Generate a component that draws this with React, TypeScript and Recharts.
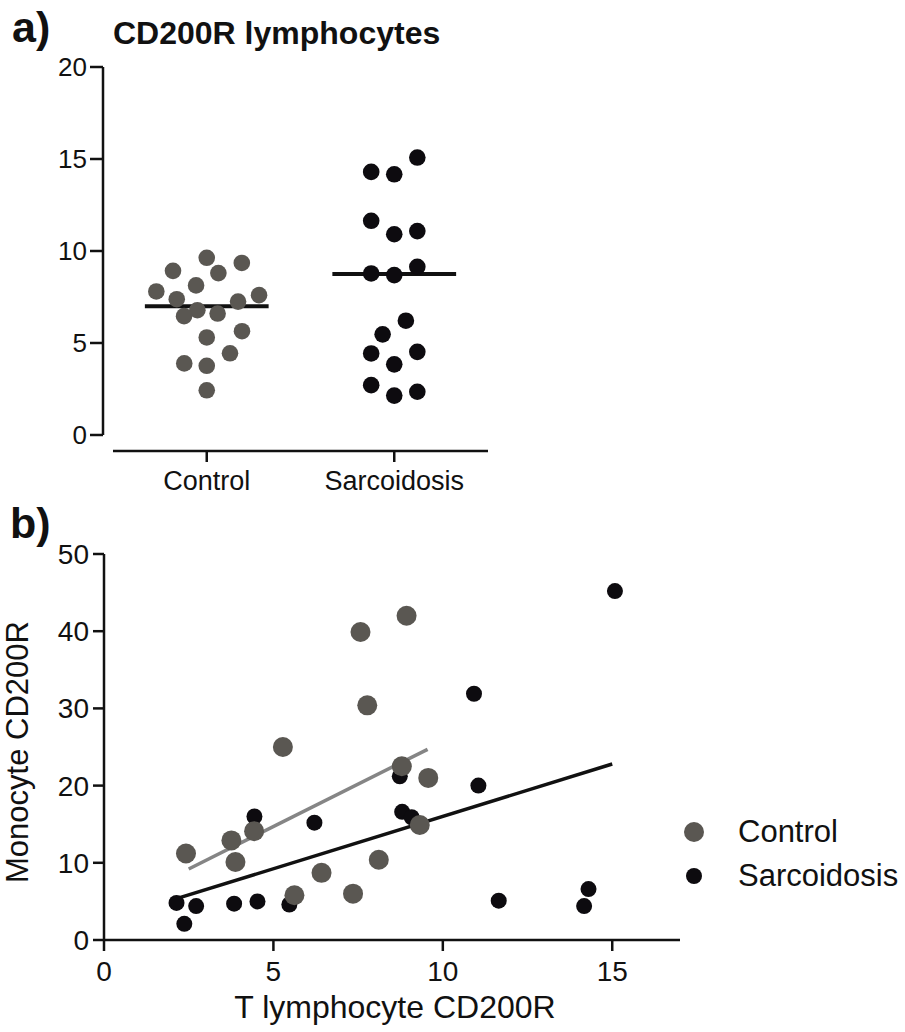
import React from 'react';
import { ScatterChart, Scatter, XAxis, YAxis, ReferenceLine, Legend } from 'recharts';

const FONT = '"Liberation Sans", Arial, Helvetica, sans-serif';
const INK = '#111111';
const CONTROL_DOT = '#5a5752';
const SARC_DOT = '#0d0b0f';
const CONTROL_FIT = '#858585';

// ---------- Panel a: CD200R lymphocytes ----------
const groupLabels = ['Control', 'Sarcoidosis'];
const controlValuesA = [9.63, 9.35, 8.92, 8.8, 8.13, 7.8, 7.6, 7.38, 7.25, 6.78, 6.6, 6.46, 5.64, 5.3, 4.44, 3.89, 3.76, 2.43];
const controlJitterA = [0, 0.187, -0.18, 0.062, -0.057, -0.269, 0.279, -0.16, 0.167, -0.05, 0.058, -0.121, 0.188, 0, 0.124, -0.12, 0, 0];
const sarcValuesA = [15.08, 14.3, 14.17, 11.64, 11.08, 10.91, 9.14, 8.78, 8.69, 6.21, 5.47, 4.43, 4.52, 3.84, 2.71, 2.35, 2.14];
const sarcJitterA = [0.123, -0.123, 0, -0.123, 0.123, 0, 0.123, -0.123, 0, 0.062, -0.062, -0.123, 0.123, 0, -0.123, 0.123, 0];
const groupMeans = [7.0, 8.75];
const yTicksA = [0, 5, 10, 15, 20];

// ---------- Panel b: Monocyte vs T lymphocyte CD200R ----------
const controlXB = [8.93, 7.57, 7.77, 5.28, 8.79, 9.57, 9.32, 4.43, 3.76, 2.42, 3.88, 8.11, 6.42, 5.62, 7.35];
const controlYB = [42.0, 39.9, 30.4, 25.0, 22.5, 21.0, 14.9, 14.1, 12.9, 11.2, 10.1, 10.4, 8.7, 5.8, 6.0];
const sarcXB = [15.08, 10.92, 8.73, 11.05, 8.8, 9.08, 6.21, 4.44, 2.14, 2.72, 2.37, 3.84, 4.53, 5.47, 11.65, 14.17, 14.3];
const sarcYB = [45.2, 31.9, 21.2, 20.0, 16.6, 15.9, 15.2, 16.0, 4.8, 4.4, 2.1, 4.7, 5.0, 4.6, 5.1, 4.4, 6.6];
const controlFitX = [2.5, 9.55];
const controlFitY = [9.2, 24.7];
const sarcFitX = [2.14, 15.0];
const sarcFitY = [5.35, 22.8];
const xTicksB = [0, 5, 10, 15];
const yTicksB = [0, 10, 20, 30, 40, 50];
const legendLabels = ['Control', 'Sarcoidosis'];

// derived tables
const controlA = controlValuesA.map((v, i) => ({ x: 0.5 + controlJitterA[i], y: v }));
const sarcA = sarcValuesA.map((v, i) => ({ x: 1.5 + sarcJitterA[i], y: v }));
const controlB = controlXB.map((x, i) => ({ x, y: controlYB[i] }));
const sarcB = sarcXB.map((x, i) => ({ x, y: sarcYB[i] }));

const X_MIN_A = -0.0533;
const Y_MIN_A = -0.87;
const MEAN_HALF = 0.33;

const dot = (r: number, fill: string) => (props: any) => (
  <circle cx={props.cx} cy={props.cy} r={r} fill={fill} />
);

const tickStyleA = { fontSize: 26, fill: INK, fontFamily: FONT };
const tickStyleB = { fontSize: 28, fill: INK, fontFamily: FONT };

const LegendContent = () => {
  const colors = [CONTROL_DOT, SARC_DOT];
  const radii = [10, 8];
  return (
    <div style={{ fontFamily: FONT }}>
      {legendLabels.map((lab, i) => (
        <div key={lab} style={{ display: 'flex', alignItems: 'center', height: 44 }}>
          <svg width={22} height={22} style={{ display: 'block' }}>
            <circle cx={11} cy={11} r={radii[i]} fill={colors[i]} />
          </svg>
          <span style={{ marginLeft: 33, fontSize: 31, color: INK, lineHeight: '44px', whiteSpace: 'nowrap' }}>{lab}</span>
        </div>
      ))}
    </div>
  );
};

const YTitleB = () => (
  <text
    x={28}
    y={242}
    transform="rotate(-90 28 242)"
    textAnchor="middle"
    fontSize={31}
    fill={INK}
    fontFamily={FONT}
  >
    Monocyte CD200R
  </text>
);

const XTitleB = () => (
  <text x={395} y={508} textAnchor="middle" fontSize={32} fill={INK} fontFamily={FONT}>
    T lymphocyte CD200R
  </text>
);

export default function App() {
  return (
    <div style={{ position: 'absolute', left: 0, top: 0, width: 905, height: 1032, background: '#fff', overflow: 'hidden' }}>
      <div style={{ position: 'absolute', left: 0, top: 0 }}>
        <ScatterChart width={905} height={511} margin={{ top: 67, right: 417, bottom: 0, left: 0 }}>
          <XAxis
            type="number"
            dataKey="x"
            domain={[X_MIN_A, 2]}
            ticks={[0.5, 1.5]}
            interval={0}
            allowDataOverflow
            tickFormatter={(v: number) => groupLabels[Math.round(v - 0.5)]}
            axisLine={false}
            tickSize={11}
            tickMargin={9}
            tickLine={{ stroke: INK, strokeWidth: 2.5 }}
            tick={{ ...tickStyleA, fontSize: 27 }}
            height={60}
          />
          <YAxis
            type="number"
            dataKey="y"
            domain={[Y_MIN_A, 20]}
            ticks={yTicksA}
            interval={0}
            allowDataOverflow
            axisLine={false}
            tickSize={13}
            tickMargin={3}
            tickLine={{ stroke: INK, strokeWidth: 2.5 }}
            tick={tickStyleA}
            width={103}
          />
          <Scatter data={sarcA} fill={SARC_DOT} shape={dot(8.3, SARC_DOT)} isAnimationActive={false} />
          <Scatter data={controlA} fill={CONTROL_DOT} shape={dot(8.3, CONTROL_DOT)} isAnimationActive={false} />
          {groupMeans.map((m, i) => (
            <ReferenceLine
              key={'mean' + i}
              segment={[
                { x: i + 0.5 - MEAN_HALF, y: m },
                { x: i + 0.5 + MEAN_HALF, y: m },
              ]}
              stroke={INK}
              strokeWidth={4}
              ifOverflow="visible"
            />
          ))}
          <ReferenceLine
            segment={[
              { x: X_MIN_A, y: 0 },
              { x: X_MIN_A, y: 20 },
            ]}
            stroke={INK}
            strokeWidth={2.5}
            ifOverflow="visible"
          />
          <ReferenceLine
            segment={[
              { x: 0, y: Y_MIN_A },
              { x: 2, y: Y_MIN_A },
            ]}
            stroke={INK}
            strokeWidth={2.5}
            ifOverflow="visible"
          />
        </ScatterChart>
      </div>
      <div style={{ position: 'absolute', left: 0, top: 510 }}>
        <ScatterChart width={905} height={522} margin={{ top: 44, right: 225, bottom: 0, left: 0 }}>
          <XAxis
            type="number"
            dataKey="x"
            domain={[0, 17]}
            ticks={xTicksB}
            interval={0}
            allowDataOverflow
            axisLine={{ stroke: INK, strokeWidth: 2.5 }}
            tickSize={11}
            tickMargin={10}
            tickLine={{ stroke: INK, strokeWidth: 2.5 }}
            tick={tickStyleB}
            height={92}
            label={<XTitleB />}
          />
          <YAxis
            type="number"
            dataKey="y"
            domain={[0, 50]}
            ticks={yTicksB}
            interval={0}
            allowDataOverflow
            axisLine={{ stroke: INK, strokeWidth: 2.5 }}
            tickSize={11}
            tickMargin={4}
            tickLine={{ stroke: INK, strokeWidth: 2.5 }}
            tick={tickStyleB}
            width={104}
            label={<YTitleB />}
          />
          <Legend
            layout="vertical"
            align="center"
            verticalAlign="middle"
            content={<LegendContent />}
            wrapperStyle={{ position: 'absolute', left: 683, top: 300, width: 230 }}
          />
          <Scatter name="Sarcoidosis" data={sarcB} fill={SARC_DOT} shape={dot(8, SARC_DOT)} isAnimationActive={false} />
          <Scatter name="Control" data={controlB} fill={CONTROL_DOT} shape={dot(10, CONTROL_DOT)} isAnimationActive={false} />
          <ReferenceLine
            segment={[
              { x: controlFitX[0], y: controlFitY[0] },
              { x: controlFitX[1], y: controlFitY[1] },
            ]}
            stroke={CONTROL_FIT}
            strokeWidth={3.5}
            ifOverflow="visible"
          />
          <ReferenceLine
            segment={[
              { x: sarcFitX[0], y: sarcFitY[0] },
              { x: sarcFitX[1], y: sarcFitY[1] },
            ]}
            stroke={INK}
            strokeWidth={3.5}
            ifOverflow="visible"
          />
        </ScatterChart>
      </div>
      <svg
        width={905}
        height={1032}
        style={{ position: 'absolute', left: 0, top: 0, pointerEvents: 'none' }}
      >
        <text x={12} y={42} fontSize={43} fontWeight="bold" fill={INK} fontFamily={FONT}>
          a)
        </text>
        <text x={113} y={44} fontSize={32} fontWeight="bold" fill={INK} fontFamily={FONT}>
          CD200R lymphocytes
        </text>
        <text x={10} y={538} fontSize={43} fontWeight="bold" fill={INK} fontFamily={FONT}>
          b)
        </text>
      </svg>
    </div>
  );
}
